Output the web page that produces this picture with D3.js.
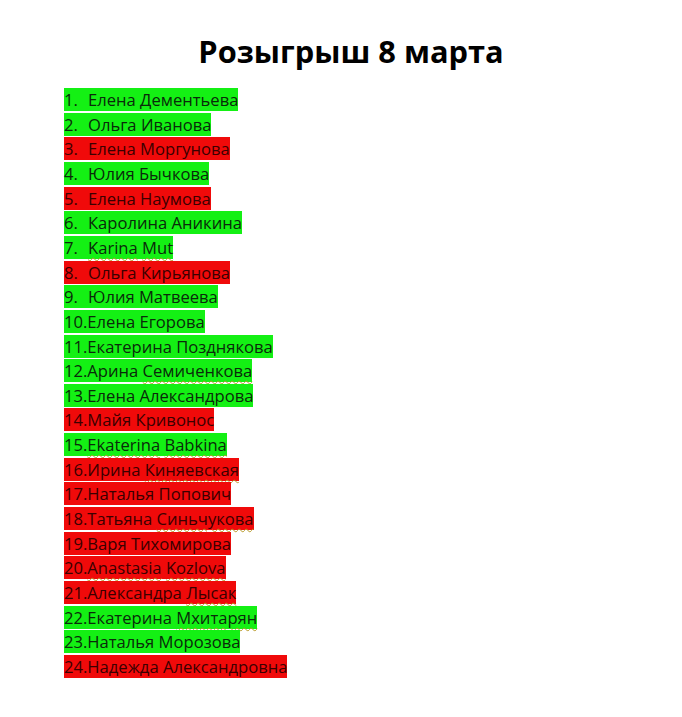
<!DOCTYPE html>
<html><head><meta charset="utf-8">
<script src="https://cdn.jsdelivr.net/npm/d3@7"></script>
<style>
body{margin:0;background:#fff;width:682px;height:717px;position:relative;overflow:hidden;font-family:"Open Sans",sans-serif}
.title{position:absolute;left:0;width:702px;text-align:center;top:30px;font-size:30.8px;font-weight:bold;color:#000}
.row{position:absolute;left:64px;height:23px;line-height:23px;font-size:16.6px;color:#111;white-space:nowrap}
.num{display:inline-block}
.sq{text-decoration:underline wavy #b89a2a;text-decoration-thickness:1px;text-underline-offset:3px}
</style></head><body>
<script>
const title = "Розыгрыш 8 марта";
const names = ["Елена Дементьева","Ольга Иванова","Елена Моргунова","Юлия Бычкова","Елена Наумова","Каролина Аникина","Karina Mut","Ольга Кирьянова","Юлия Матвеева","Елена Егорова","Екатерина Позднякова","Арина Семиченкова","Елена Александрова","Майя Кривонос","Ekaterina Babkina","Ирина Киняевская","Наталья Попович","Татьяна Синьчукова","Варя Тихомирова","Anastasia Kozlova","Александра Лысак","Екатерина Мхитарян","Наталья Морозова","Надежда Александровна"];
const status = ["g","g","r","g","r","g","g","r","g","g","g","g","g","r","g","r","r","r","r","r","r","g","g","r"];
const flagged = ["Karina","Mut","Семиченкова","Ekaterina","Babkina","Киняевская","Синьчукова","Anastasia","Kozlova","Лысак","Мхитарян"];
const colors = {g:"#14f014", r:"#f00a0a"};
const textColors = {g:"#0a2a0a", r:"#3a0000"};

d3.select("body").append("div").attr("class","title").text(title);
const y = d3.scaleLinear().domain([0, names.length-1]).range([88, 655]);
const rows = d3.select("body").selectAll(".row").data(names).join("div")
  .attr("class","row")
  .style("top",(d,i)=>y(i)+"px")
  .style("background",(d,i)=>colors[status[i]])
  .style("color",(d,i)=>textColors[status[i]]);
rows.append("span").attr("class","num")
  .style("width",(d,i)=>i<9?"24px":null)
  .text((d,i)=>(i+1)+".");
rows.append("span").html(d=>d.split(" ").map(w=>flagged.includes(w)?`<span class="sq">${w}</span>`:w).join(" "));
</script>
</body></html>
